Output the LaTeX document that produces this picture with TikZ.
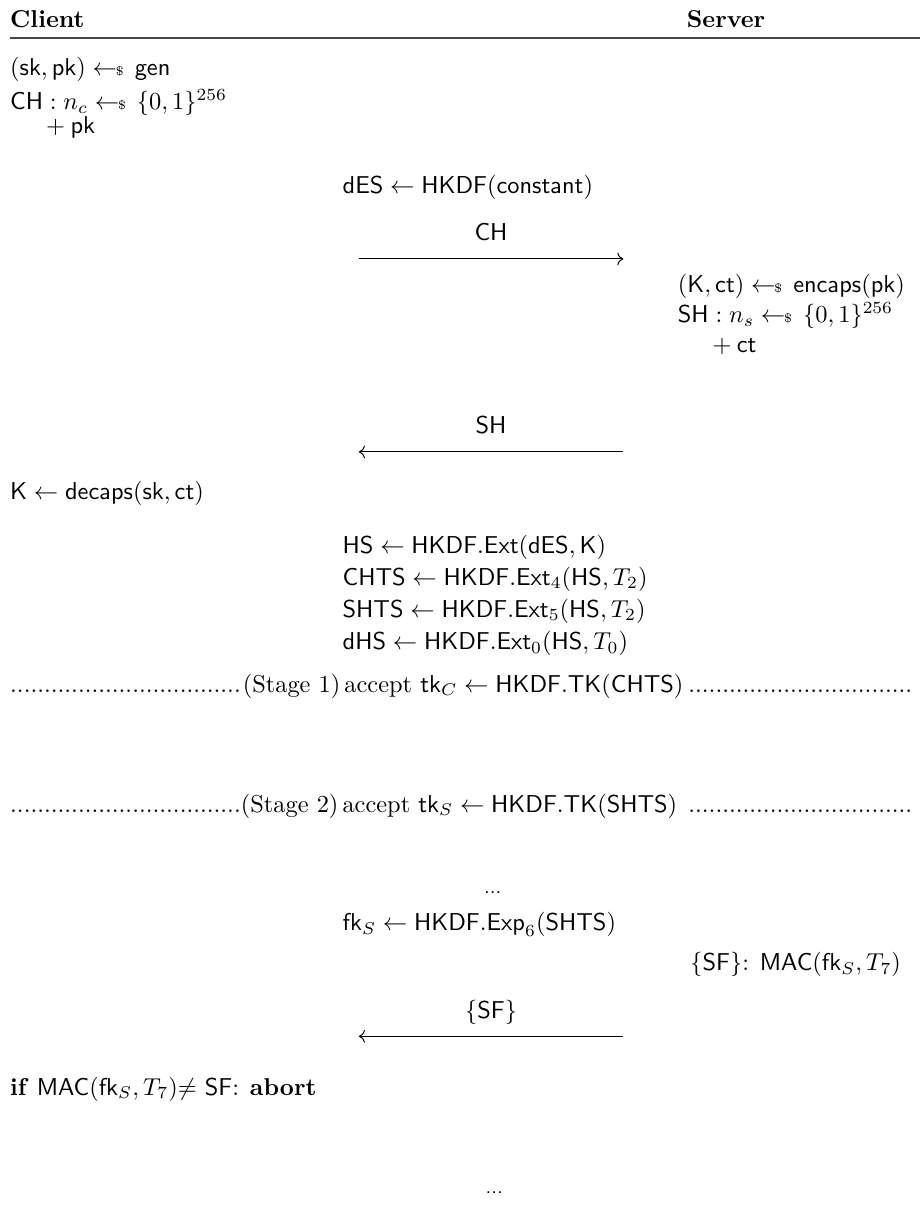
\documentclass[tikz,border=0pt]{standalone}
\usepackage{amsmath,amssymb}
\usepackage{tikz}
\usetikzlibrary{arrows.meta,positioning}
\definecolor{grisf}{RGB}{70,70,70}
\newcommand{\sv}[1]{\mathsf{#1}}
\newcommand{\kdf}{\sv{HKDF}}
\newcommand{\smp}{\mathrel{\gets\!\!{\scriptscriptstyle\$}\,}}
\newcommand{\puntos}{\leaders\hbox{.}\hfill}
\tikzset{
  txt/.style={anchor=base west, inner sep=0pt},
  cab/.style={inner sep=0pt, font=\bfseries},
  fl/.style={->, thin},
  et/.style={anchor=base, inner sep=0pt, yshift=7.5pt},
  etapa/.style={anchor=base west, inner sep=0pt},
  sig/.style={anchor=base, inner sep=0pt, font=\footnotesize\sffamily},
}

\begin{document}
\begin{tikzpicture}
  \useasboundingbox (0,0) rectangle (13.26,-17.49);
  % cabecera
  \node[cab, anchor=base west] (cli) at (0.14,-0.39) {Client};
  \node[cab, anchor=base] (srv) at (10.46,-0.39) {Server};
  \coordinate (r1) at (0.14,-0.55);
  \coordinate (r2) at (13.26,-0.55);
  \draw[grisf, line width=0.6pt] (r1) -- (r2);
  % ClientHello
  \node[txt] (gen) at (0.14,-1.09) {$(\sv{sk},\sv{pk}) \smp \sv{gen}$};
  \node[txt] (nc) at (0.14,-1.58) {$\sv{CH} : n_c \smp \{0,1\}^{256}$};
  \node[txt] (pk) at (0.58,-1.92) {${}+\sv{pk}$};
  \node[txt] (des) at (4.93,-2.79) {$\sv{dES} \gets \kdf(\sv{constant})$};
  \coordinate (chL) at (5.17,-3.73);
  \coordinate (chR) at (8.98,-3.73);
  \draw[fl] (chL) -- node[et]{$\sv{CH}$} (chR);
  % ServerHello
  \node[txt] (enc) at (9.76,-4.21) {$(\sv{K},\sv{ct}) \smp \sv{encaps}(\sv{pk})$};
  \node[txt] (ns) at (9.76,-4.65) {$\sv{SH} : n_s \smp \{0,1\}^{256}$};
  \node[txt] (ct) at (10.18,-5.08) {${}+\sv{ct}$};
  \coordinate (shL) at (5.17,-6.51);
  \coordinate (shR) at (8.98,-6.51);
  \draw[fl] (shR) -- node[et]{$\sv{SH}$} (shL);
  \node[txt] (dec) at (0.14,-7.20) {$\sv{K} \gets \sv{decaps}(\sv{sk},\sv{ct})$};
  % handshake secrets
  \node[txt] (hs) at (4.93,-7.97) {$\sv{HS} \gets \kdf.\sv{Ext}(\sv{dES},\sv{K})$};
  \node[txt] (chts) at (4.93,-8.43) {$\sv{CHTS} \gets \kdf.\sv{Ext}_4(\sv{HS},T_2)$};
  \node[txt] (shts) at (4.93,-8.89) {$\sv{SHTS} \gets \kdf.\sv{Ext}_5(\sv{HS},T_2)$};
  \node[txt] (dhs) at (4.93,-9.36) {$\sv{dHS} \gets \kdf.\sv{Ext}_0(\sv{HS},T_0)$};
  % stages
  \node[etapa] (st1) at (0.14,-9.97)
    {\hbox to 13.05cm{\puntos(Stage~1)\,accept $\sv{tk}_C \gets \kdf.\sv{TK}(\sv{CHTS})$\puntos}};
  \node[etapa] (st2) at (0.14,-11.70)
    {\hbox to 13.05cm{\puntos(Stage~2)\,accept $\sv{tk}_S \gets \kdf.\sv{TK}(\sv{SHTS})$ \puntos}};
  % ServerFinished
  \node[sig] (dd1) at (7.10,-12.87) {...};
  \node[txt] (fks) at (4.93,-13.41) {$\sv{fk}_S \gets \kdf.\sv{Exp}_6(\sv{SHTS})$};
  \node[txt] (mac) at (9.94,-13.98) {$\{\sv{SF}\}$: $\sv{MAC}(\sv{fk}_S,T_7)$};
  \coordinate (sfL) at (5.17,-14.93);
  \coordinate (sfR) at (8.98,-14.93);
  \draw[fl] (sfR) -- node[et]{$\{\sv{SF}\}$} (sfL);
  \node[txt] (chk) at (0.14,-15.78)
    {\textbf{if} $\sv{MAC}(\sv{fk}_S,T_7)${$\neq$} $\sv{SF}$: \textbf{abort}};
  \node[sig] (dd2) at (7.12,-17.19) {...};
\end{tikzpicture}
\end{document}
